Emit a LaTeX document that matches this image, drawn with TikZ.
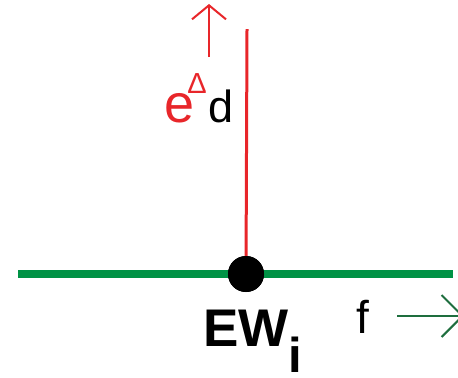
\documentclass[tikz,border=0pt]{standalone}
\usepackage{fontspec}
\setmainfont{Liberation Sans}
\usetikzlibrary{arrows.meta,positioning}
\definecolor{wirered}{RGB}{232,38,42}
\definecolor{wiregreen}{RGB}{0,146,69}
\definecolor{arrowgreen}{RGB}{30,110,62}

\begin{document}
\begin{tikzpicture}[
    x=0.5pt, y=-0.5pt,
    txt/.style={inner sep=0pt, anchor=base west},
    wire/.style={line width=3.75pt, wiregreen},
    branch/.style={line width=1.5pt, wirered},
    dirarrow/.style={line width=1pt}
]
\useasboundingbox (0,0) rectangle (458,377);

% Wire and junction
\coordinate (wl) at (18,274);
\coordinate (wr) at (453,274);
\draw[wire] (wl) -- (wr);
\coordinate (top) at (247,29);
\node[circle, fill=black, minimum size=18pt, inner sep=0pt] (ew) at (246,274) {};
\draw[branch] (top) -- (ew.center);
\fill (ew) circle (9pt);

% Direction of d
\coordinate (ds) at (209,57);
\coordinate (de) at (209,4);
\draw[dirarrow, wirered, -{Straight Barb[length=7pt, width=17pt]}] (ds) -- (de);

\node[txt, wirered, font=\fontsize{27}{27}\selectfont] (e) at (164,122) {e};
\node[txt, wirered, font=\fontsize{14.5}{14.5}\selectfont] (delta) at (187,93) {Δ};
\node[txt, font=\fontsize{22.5}{22.5}\selectfont] (d) at (208,122) {d};

% Direction of f
\coordinate (fs) at (397,316);
\coordinate (fe) at (464,316);
\draw[dirarrow, arrowgreen, -{Straight Barb[length=10.5pt, width=21pt]}] (fs) -- (fe);
\node[txt, font=\fontsize{23}{23}\selectfont] (f) at (356,333) {f};

% Label of the point
\node[txt, font=\bfseries\fontsize{26.5}{26.5}\selectfont] (ewl) at (203,346) {EW};
\node[txt, font=\bfseries\fontsize{24.5}{24.5}\selectfont] (sub) at (288,372) {i};

\end{tikzpicture}
\end{document}
